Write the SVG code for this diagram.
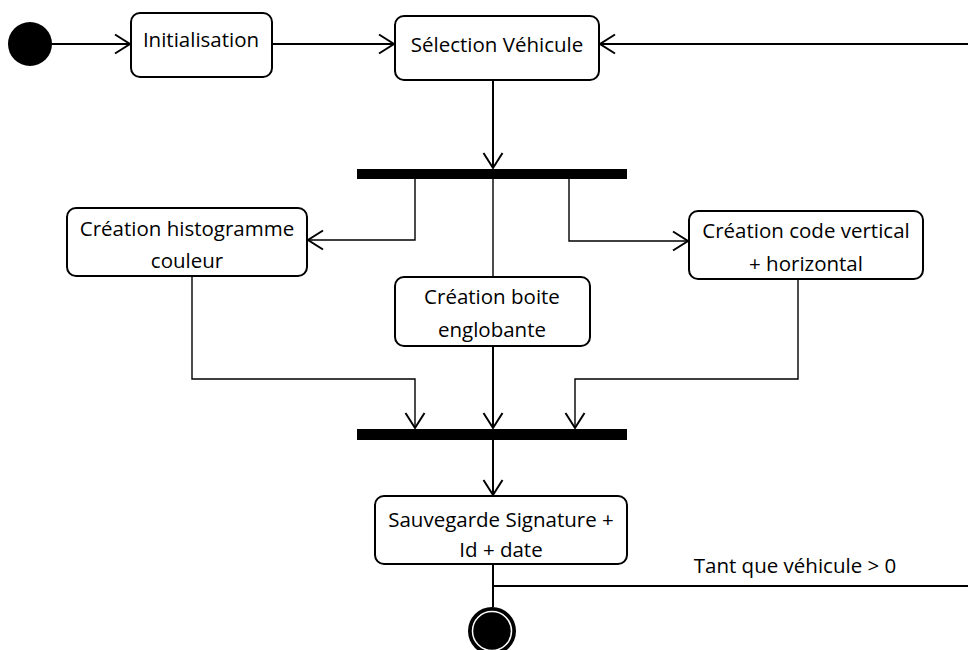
<svg xmlns="http://www.w3.org/2000/svg" width="968" height="650" viewBox="0 0 968 650">
<style>
.box{fill:#fff;stroke:#000;stroke-width:2}
.t{font-family:"Open Sans","Liberation Sans",sans-serif;font-size:20.5px;fill:#000;text-anchor:middle}
.c{fill:none;stroke:#000;stroke-width:2}
.thin{fill:none;stroke:#000;stroke-width:1.4}
.a{marker-end:url(#arr)}
</style>
<defs>
<marker id="arr" markerUnits="userSpaceOnUse" markerWidth="20" markerHeight="24" viewBox="-18 -12 20 24" refX="0" refY="0" orient="auto">
<path d="M-15,-9.5 L0,0 L-15,9.5" fill="none" stroke="#000" stroke-width="2"/>
</marker>
</defs>
<rect width="968" height="650" fill="#fff"/>
<g id="connectors">
<line class="c a" x1="52" y1="44" x2="130" y2="44"/>
<line class="c a" x1="272" y1="44" x2="394" y2="44"/>
<line class="c a" x1="968" y1="44" x2="600" y2="44"/>
<line class="c a" x1="493" y1="80" x2="493" y2="168"/>
<polyline class="thin a" points="415,179 415,240 308,240"/>
<line class="thin" x1="493" y1="179" x2="493" y2="277"/>
<polyline class="thin a" points="569,179 569,241 688,241"/>
<polyline class="thin a" points="192,276 192,379 415,379 415,428"/>
<line class="c a" x1="493" y1="346" x2="493" y2="428"/>
<polyline class="thin a" points="798,279 798,379 575,379 575,428"/>
<line class="c a" x1="493" y1="440" x2="493" y2="495"/>
<line class="c" x1="493" y1="564" x2="493" y2="607"/>
<line class="c" x1="493" y1="586" x2="968" y2="586"/>
<text class="t" x="795" y="573">Tant que véhicule &gt; 0</text>
</g>
<g id="start"><circle cx="30" cy="44" r="22" fill="#000"/></g>
<g id="initialisation">
<rect class="box" x="131" y="13" width="141" height="64" rx="9"/>
<text class="t" x="201" y="47">Initialisation</text>
</g>
<g id="selection">
<rect class="box" x="395" y="16" width="204" height="64" rx="9"/>
<text class="t" x="497" y="52">Sélection Véhicule</text>
</g>
<g id="fork"><rect x="357" y="169" width="270" height="10" fill="#000"/></g>
<g id="histogramme">
<rect class="box" x="67" y="208" width="240" height="68" rx="9"/>
<text class="t" x="187" y="236">Création histogramme</text>
<text class="t" x="187" y="268">couleur</text>
</g>
<g id="code">
<rect class="box" x="689" y="211" width="234" height="68" rx="9"/>
<text class="t" x="806" y="238">Création code vertical</text>
<text class="t" x="806" y="271">+ horizontal</text>
</g>
<g id="boite">
<rect class="box" x="395" y="277" width="195" height="69" rx="9"/>
<text class="t" x="492" y="304">Création boite</text>
<text class="t" x="492" y="337">englobante</text>
</g>
<g id="join"><rect x="357" y="429" width="270" height="11" fill="#000"/></g>
<g id="sauvegarde">
<rect class="box" x="375" y="496" width="252" height="68" rx="9"/>
<text class="t" x="501" y="527">Sauvegarde Signature +</text>
<text class="t" x="501" y="557">Id + date</text>
</g>
<g id="final">
<circle cx="492" cy="631" r="24" fill="#000"/>
<circle cx="492" cy="631" r="19.5" fill="none" stroke="#fff" stroke-width="1.5"/>
</g>
</svg>
